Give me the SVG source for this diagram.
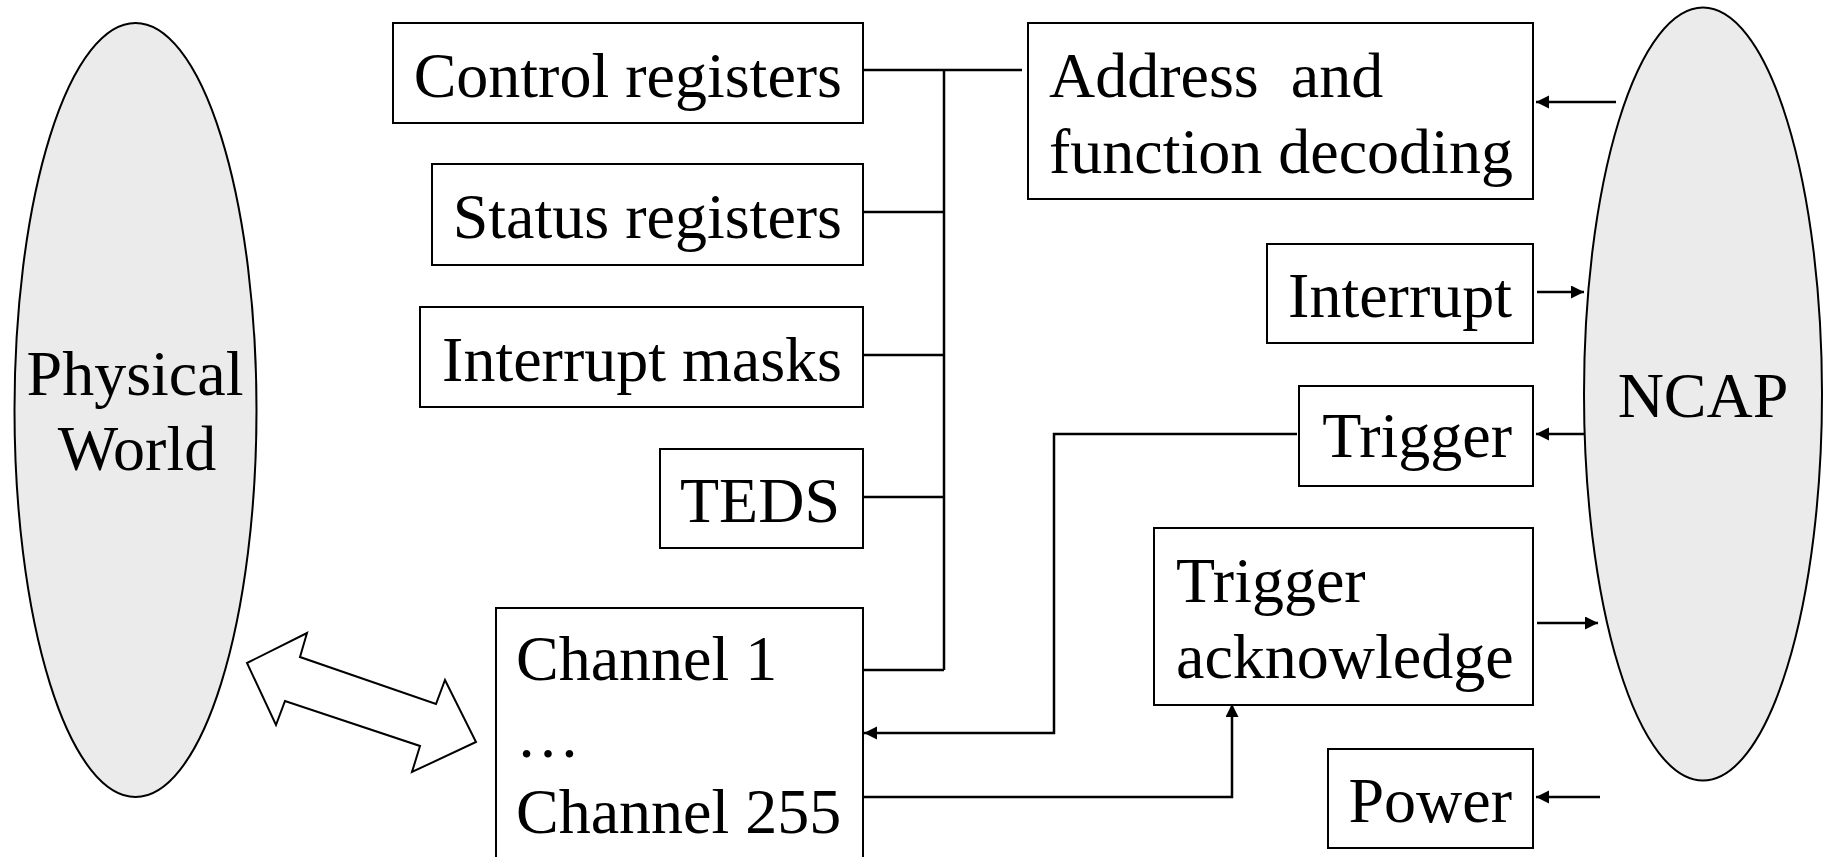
<svg xmlns="http://www.w3.org/2000/svg" width="1824" height="857" viewBox="0 0 1824 857">
  <style>
    .box { fill: #ffffff; stroke: #000000; stroke-width: 2; }
    .oval { fill: #ebebeb; stroke: #000000; stroke-width: 2; }
    .lbl { font-family: "Liberation Serif", "Times New Roman", serif; font-size: 64px; fill: #000000; white-space: pre; }
    .end { text-anchor: end; }
    .mid { text-anchor: middle; }
    .wire { fill: none; stroke: #000000; stroke-width: 2.5; }
    .arrow { fill: none; stroke: #000000; stroke-width: 2.5; marker-end: url(#head); }
  </style>
  <defs>
    <marker id="head" markerUnits="userSpaceOnUse" markerWidth="14" markerHeight="14" refX="13" refY="6.5" orient="auto">
      <path d="M0,0 L13,6.5 L0,13 z" fill="#000000"/>
    </marker>
  </defs>

  <rect width="1824" height="857" fill="#ffffff"/>

  <!-- side entities -->
  <g id="physical-world">
    <ellipse class="oval" cx="135.5" cy="410" rx="121" ry="387"/>
    <text class="lbl mid" x="135" y="395">Physical</text>
    <text class="lbl mid" x="137" y="470">World</text>
  </g>
  <g id="ncap">
    <ellipse class="oval" cx="1703" cy="394" rx="119" ry="386.5"/>
    <text class="lbl mid" x="1703" y="417">NCAP</text>
  </g>

  <!-- register blocks -->
  <g id="control-registers">
    <rect class="box" x="393" y="23" width="470" height="100"/>
    <text class="lbl end" x="842" y="97">Control registers</text>
  </g>
  <g id="status-registers">
    <rect class="box" x="432" y="164" width="431" height="101"/>
    <text class="lbl end" x="842" y="238">Status registers</text>
  </g>
  <g id="interrupt-masks">
    <rect class="box" x="420" y="307" width="443" height="100"/>
    <text class="lbl end" x="842" y="381">Interrupt masks</text>
  </g>
  <g id="teds">
    <rect class="box" x="660" y="449" width="203" height="99"/>
    <text class="lbl end" x="840" y="522">TEDS</text>
  </g>
  <g id="channels">
    <rect class="box" x="496" y="608" width="367" height="270"/>
    <text class="lbl" x="516" y="680">Channel 1</text>
    <text class="lbl" x="516" y="757">…</text>
    <text class="lbl" x="516" y="833">Channel 255</text>
  </g>

  <!-- interface blocks -->
  <g id="address-decoding">
    <rect class="box" x="1028" y="23" width="505" height="176"/>
    <text class="lbl" x="1049" y="97">Address  and</text>
    <text class="lbl" x="1049" y="173">function decoding</text>
  </g>
  <g id="interrupt">
    <rect class="box" x="1267" y="244" width="266" height="99"/>
    <text class="lbl end" x="1512" y="317">Interrupt</text>
  </g>
  <g id="trigger">
    <rect class="box" x="1299" y="386" width="234" height="100"/>
    <text class="lbl end" x="1512" y="457">Trigger</text>
  </g>
  <g id="trigger-acknowledge">
    <rect class="box" x="1154" y="528" width="379" height="177"/>
    <text class="lbl" x="1176" y="602">Trigger</text>
    <text class="lbl" x="1176" y="678">acknowledge</text>
  </g>
  <g id="power">
    <rect class="box" x="1328" y="749" width="205" height="99"/>
    <text class="lbl end" x="1512" y="822">Power</text>
  </g>

  <!-- connectors -->
  <g id="connectors">
    <!-- internal register bus -->
    <path class="wire" d="M863,70 H1022 M944,70 V670 M863,212 H944 M863,355 H944 M863,497 H944 M863,670 H944"/>
    <!-- trigger routed to channels -->
    <path class="arrow" d="M1297,434 H1054 V733 H864"/>
    <!-- channels to trigger acknowledge -->
    <path class="arrow" d="M863,797 H1232 V704"/>
    <!-- NCAP signals -->
    <path class="arrow" d="M1616,102 H1536"/>
    <path class="arrow" d="M1537,292 H1584"/>
    <path class="arrow" d="M1584,434 H1536"/>
    <path class="arrow" d="M1537,623 H1598"/>
    <path class="arrow" d="M1600,797 H1536"/>
    <!-- bidirectional exchange with the physical world -->
    <polygon points="247,663 307,633 300,657 436,704 445,680 476,742 412,772 420,746 285,701 276,725" fill="#ffffff" stroke="#000000" stroke-width="2"/>
  </g>
</svg>
